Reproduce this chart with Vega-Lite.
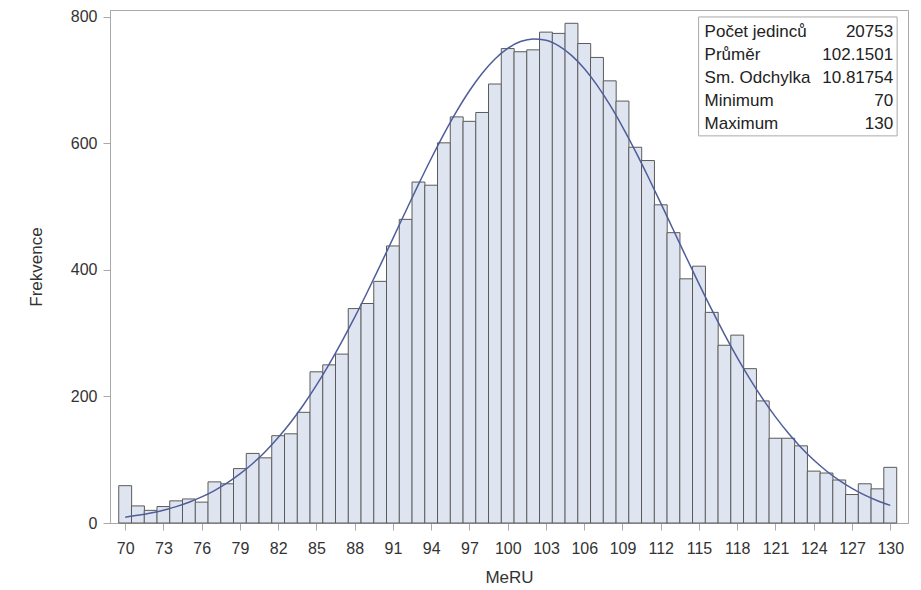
{
  "$schema": "https://vega.github.io/schema/vega-lite/v6.json",
  "width": 798,
  "height": 513,
  "autosize": "none",
  "padding": {"left": 110, "top": 10, "right": 13, "bottom": 67},
  "background": "white",
  "config": {
    "font": "Liberation Sans",
    "view": {"stroke": "#a9a9a9", "strokeWidth": 1},
    "axis": {
      "domainColor": "#a9a9a9",
      "tickColor": "#a9a9a9",
      "labelColor": "#333333",
      "titleColor": "#333333",
      "labelFontSize": 16,
      "titleFontSize": 17,
      "titleFontWeight": "normal",
      "grid": false,
      "tickSize": 7
    }
  },
  "datasets": {
    "freq": [
      {"MeRU": 70, "count": 59}, {"MeRU": 71, "count": 27}, {"MeRU": 72, "count": 20},
      {"MeRU": 73, "count": 26}, {"MeRU": 74, "count": 35}, {"MeRU": 75, "count": 38},
      {"MeRU": 76, "count": 33}, {"MeRU": 77, "count": 65}, {"MeRU": 78, "count": 62},
      {"MeRU": 79, "count": 86}, {"MeRU": 80, "count": 110}, {"MeRU": 81, "count": 103},
      {"MeRU": 82, "count": 138}, {"MeRU": 83, "count": 141}, {"MeRU": 84, "count": 175},
      {"MeRU": 85, "count": 239}, {"MeRU": 86, "count": 250}, {"MeRU": 87, "count": 267},
      {"MeRU": 88, "count": 339}, {"MeRU": 89, "count": 347}, {"MeRU": 90, "count": 382},
      {"MeRU": 91, "count": 438}, {"MeRU": 92, "count": 480}, {"MeRU": 93, "count": 539},
      {"MeRU": 94, "count": 534}, {"MeRU": 95, "count": 601}, {"MeRU": 96, "count": 642},
      {"MeRU": 97, "count": 635}, {"MeRU": 98, "count": 649}, {"MeRU": 99, "count": 694},
      {"MeRU": 100, "count": 750}, {"MeRU": 101, "count": 745}, {"MeRU": 102, "count": 748},
      {"MeRU": 103, "count": 776}, {"MeRU": 104, "count": 774}, {"MeRU": 105, "count": 790},
      {"MeRU": 106, "count": 758}, {"MeRU": 107, "count": 736}, {"MeRU": 108, "count": 699},
      {"MeRU": 109, "count": 667}, {"MeRU": 110, "count": 594}, {"MeRU": 111, "count": 573},
      {"MeRU": 112, "count": 503}, {"MeRU": 113, "count": 459}, {"MeRU": 114, "count": 386},
      {"MeRU": 115, "count": 406}, {"MeRU": 116, "count": 333}, {"MeRU": 117, "count": 281},
      {"MeRU": 118, "count": 297}, {"MeRU": 119, "count": 244}, {"MeRU": 120, "count": 193},
      {"MeRU": 121, "count": 134}, {"MeRU": 122, "count": 134}, {"MeRU": 123, "count": 122},
      {"MeRU": 124, "count": 82}, {"MeRU": 125, "count": 79}, {"MeRU": 126, "count": 68},
      {"MeRU": 127, "count": 45}, {"MeRU": 128, "count": 62}, {"MeRU": 129, "count": 54},
      {"MeRU": 130, "count": 88}
    ],
    "fit": [
      {"MeRU": 70, "density": 9.24}, {"MeRU": 71, "density": 12.12}, {"MeRU": 72, "density": 15.75},
      {"MeRU": 73, "density": 20.28}, {"MeRU": 74, "density": 25.9}, {"MeRU": 75, "density": 32.81},
      {"MeRU": 76, "density": 41.2}, {"MeRU": 77, "density": 51.3}, {"MeRU": 78, "density": 63.33},
      {"MeRU": 79, "density": 77.51}, {"MeRU": 80, "density": 94.07}, {"MeRU": 81, "density": 113.18},
      {"MeRU": 82, "density": 135.04}, {"MeRU": 83, "density": 159.72}, {"MeRU": 84, "density": 187.33},
      {"MeRU": 85, "density": 217.83}, {"MeRU": 86, "density": 251.13}, {"MeRU": 87, "density": 287.07},
      {"MeRU": 88, "density": 325.34}, {"MeRU": 89, "density": 365.61}, {"MeRU": 90, "density": 407.33},
      {"MeRU": 91, "density": 449.98}, {"MeRU": 92, "density": 492.85}, {"MeRU": 93, "density": 535.23},
      {"MeRU": 94, "density": 576.26}, {"MeRU": 95, "density": 615.21}, {"MeRU": 96, "density": 651.19},
      {"MeRU": 97, "density": 683.41}, {"MeRU": 98, "density": 711.1}, {"MeRU": 99, "density": 733.63},
      {"MeRU": 100, "density": 750.43}, {"MeRU": 101, "density": 761.09}, {"MeRU": 102, "density": 765.33},
      {"MeRU": 103, "density": 763.04}, {"MeRU": 104, "density": 754.29}, {"MeRU": 105, "density": 739.29},
      {"MeRU": 106, "density": 718.43}, {"MeRU": 107, "density": 692.21}, {"MeRU": 108, "density": 661.27},
      {"MeRU": 109, "density": 626.35}, {"MeRU": 110, "density": 588.22}, {"MeRU": 111, "density": 547.71},
      {"MeRU": 112, "density": 505.68}, {"MeRU": 113, "density": 462.83}, {"MeRU": 114, "density": 420.06},
      {"MeRU": 115, "density": 377.98}, {"MeRU": 116, "density": 337.24}, {"MeRU": 117, "density": 298.32},
      {"MeRU": 118, "density": 261.63}, {"MeRU": 119, "density": 227.53}, {"MeRU": 120, "density": 196.18},
      {"MeRU": 121, "density": 167.7}, {"MeRU": 122, "density": 142.14}, {"MeRU": 123, "density": 119.45},
      {"MeRU": 124, "density": 99.52}, {"MeRU": 125, "density": 82.24}, {"MeRU": 126, "density": 67.35},
      {"MeRU": 127, "density": 54.68}, {"MeRU": 128, "density": 44.04}, {"MeRU": 129, "density": 35.16},
      {"MeRU": 130, "density": 27.83}
    ],
    "stats": [
      {"stat": "Počet jedinců", "value": "20753"},
      {"stat": "Průměr", "value": "102.1501"},
      {"stat": "Sm. Odchylka", "value": "10.81754"},
      {"stat": "Minimum", "value": "70"},
      {"stat": "Maximum", "value": "130"}
    ]
  },
  "layer": [
    {
      "layer": [
        {
          "data": {"name": "freq"},
          "mark": {"type": "bar", "size": 12.91, "fill": "#dfe5f0", "stroke": "#5a5a5a", "strokeWidth": 1},
          "encoding": {
            "x": {
              "field": "MeRU",
              "type": "quantitative",
              "scale": {"domain": [69.2, 131], "nice": false, "zero": false},
              "axis": {
                "title": "MeRU",
                "values": [70, 73, 76, 79, 82, 85, 88, 91, 94, 97, 100, 103, 106, 109, 112, 115, 118, 121, 124, 127, 130],
                "tickCount": 40,
                "labelOverlap": false,
                "labelPadding": 10,
                "titlePadding": 13
              }
            },
            "y": {
              "field": "count",
              "type": "quantitative",
              "scale": {"domain": [0, 811], "nice": false},
              "axis": {"title": "Frekvence", "values": [0, 200, 400, 600, 800], "tickCount": 10, "labelOverlap": false, "labelPadding": 6, "titlePadding": 25}
            }
          }
        },
        {
          "data": {"name": "fit"},
          "mark": {"type": "line", "interpolate": "monotone", "color": "#4f5d99", "strokeWidth": 1.5},
          "encoding": {
            "x": {"field": "MeRU", "type": "quantitative", "axis": {"title": "MeRU", "labelOverlap": false}},
            "y": {"field": "density", "type": "quantitative", "axis": {"title": "Frekvence", "labelOverlap": false}}
          }
        },
        {
          "data": {"values": [{}]},
          "mark": {"type": "rect", "fill": "white", "stroke": "#a9a9a9", "strokeWidth": 1},
          "encoding": {
            "x": {"datum": 114.97},
            "x2": {"datum": 130.54},
            "y": {"datum": 800},
            "y2": {"datum": 612}
          }
        }
      ]
    },
    {
      "data": {"name": "stats"},
      "encoding": {
        "y": {
          "field": "stat",
          "type": "nominal",
          "sort": null,
          "axis": null,
          "scale": {"type": "point", "range": [27, 119], "padding": 0}
        }
      },
      "layer": [
        {
          "mark": {"type": "text", "align": "left", "baseline": "alphabetic", "fontSize": 17, "color": "#222222"},
          "encoding": {"x": {"datum": 115.44}, "text": {"field": "stat"}}
        },
        {
          "mark": {"type": "text", "align": "right", "baseline": "alphabetic", "fontSize": 17, "color": "#222222"},
          "encoding": {"x": {"datum": 130.23}, "text": {"field": "value"}}
        }
      ]
    }
  ],
  "resolve": {"scale": {"y": "independent"}}
}
